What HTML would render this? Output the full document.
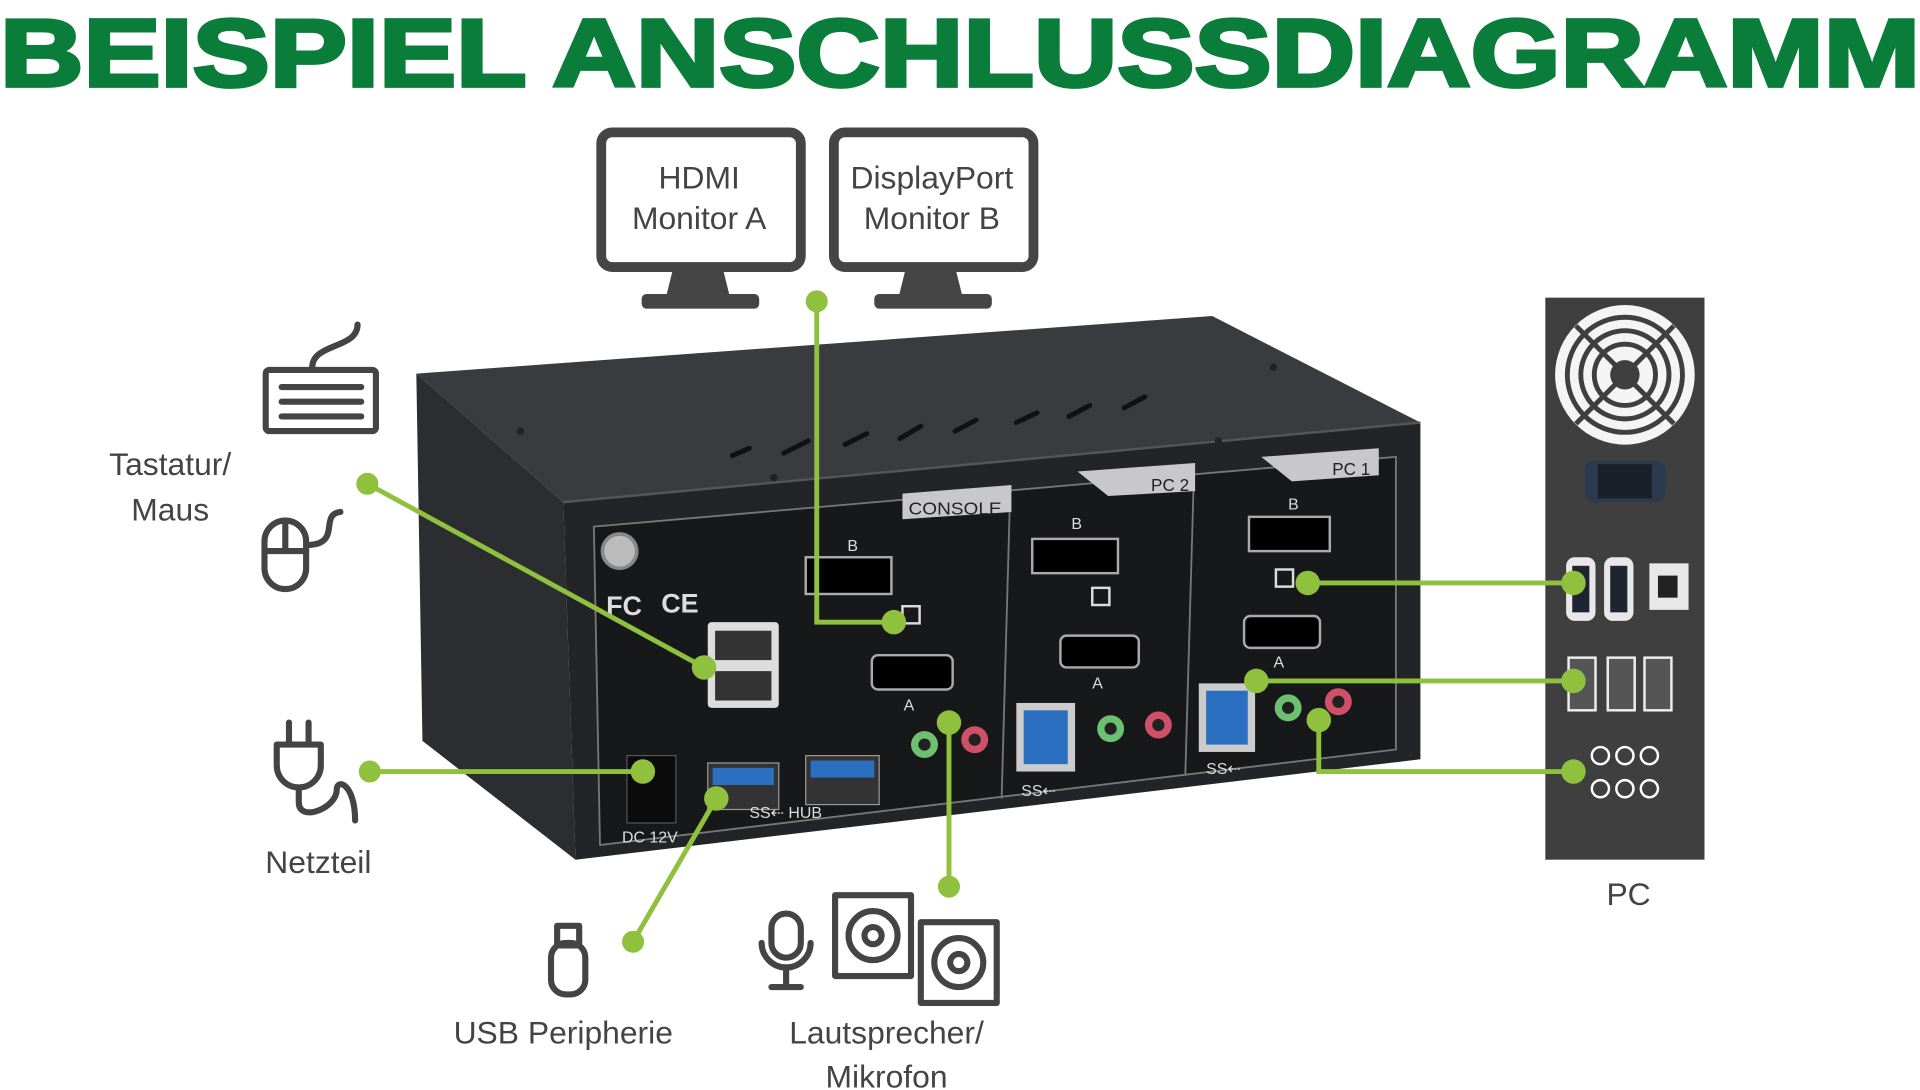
<!DOCTYPE html>
<html><head><meta charset="utf-8"><style>
html,body{margin:0;padding:0;background:#fff;width:1920px;height:1090px;overflow:hidden}
svg{display:block}
</style></head><body>
<svg width="1920" height="1090" viewBox="0 0 1568 890" xmlns="http://www.w3.org/2000/svg" font-family="'Liberation Sans', sans-serif">
<!-- Title -->
<text x="0" y="70" font-size="78" font-weight="bold" fill="#0a7d3b" textLength="1568" lengthAdjust="spacingAndGlyphs" stroke="#0a7d3b" stroke-width="3">BEISPIEL ANSCHLUSSDIAGRAMM</text>

<!-- Monitors -->
<g fill="none" stroke="#454545" stroke-width="8">
<rect x="491" y="108" width="163" height="110" rx="9"/>
<rect x="681" y="108" width="163" height="110" rx="9"/>
</g>
<g fill="#454545">
<polygon points="550,218 590,218 596,242 544,242"/><rect x="524" y="240" width="96" height="12" rx="4"/>
<polygon points="740,218 780,218 786,242 734,242"/><rect x="714" y="240" width="96" height="12" rx="4"/>
</g>
<g font-size="26" fill="#444" text-anchor="middle">
<text x="571" y="154">HDMI</text><text x="571" y="187">Monitor A</text>
<text x="761" y="154">DisplayPort</text><text x="761" y="187">Monitor B</text>
</g>

<!-- KVM box -->
<polygon points="340,305 990,258 1160,345 460,410" fill="#3a3b3e"/>
<polygon points="340,305 460,410 470,702 345,605" fill="#2c2d30"/>
<polygon points="460,410 1160,345 1160,620 470,702" fill="#232427"/>
<line x1="460" y1="410" x2="1160" y2="345" stroke="#555" stroke-width="2"/>
<g fill="#222">
<circle cx="425" cy="352" r="3"/><circle cx="1040" cy="300" r="3"/><circle cx="632" cy="390" r="3"/><circle cx="995" cy="360" r="3"/>
</g>
<g stroke="#111" stroke-width="4" stroke-linecap="round">
<line x1="598" y1="372" x2="612" y2="366"/><line x1="640" y1="370" x2="660" y2="360"/><line x1="690" y1="363" x2="708" y2="354"/><line x1="735" y1="358" x2="752" y2="348"/><line x1="780" y1="352" x2="797" y2="343"/><line x1="830" y1="345" x2="847" y2="337"/><line x1="873" y1="340" x2="890" y2="331"/><line x1="918" y1="333" x2="935" y2="324"/>
</g>
<!-- front panel -->
<polygon points="485,430 1140,373 1140,612 490,690" fill="#17181a" stroke="#777" stroke-width="1.5"/>
<line x1="825" y1="400" x2="818" y2="652" stroke="#777" stroke-width="1.5"/>
<line x1="975" y1="388" x2="968" y2="633" stroke="#777" stroke-width="1.5"/>
<polygon points="737,403 826,396 826,418 737,424" fill="#c8c8ca"/>
<polygon points="880,385 976,378 976,401 905,405" fill="#c8c8ca"/>
<polygon points="1030,373 1126,366 1126,388 1055,393" fill="#c8c8ca"/>
<g font-size="14" fill="#222">
<text x="742" y="420" textLength="76" lengthAdjust="spacingAndGlyphs">CONSOLE</text>
<text x="940" y="401">PC 2</text><text x="1088" y="388">PC 1</text>
</g>
<circle cx="506" cy="450" r="14" fill="#bbb" stroke="#888" stroke-width="3"/>
<g fill="#ddd" font-size="22" font-weight="bold"><text x="495" y="502">FC</text><text x="540" y="500">CE</text></g>
<!-- ports console -->
<rect x="578" y="508" width="58" height="70" fill="#ddd" rx="3"/><rect x="584" y="515" width="46" height="24" fill="#333"/><rect x="584" y="548" width="46" height="24" fill="#333"/>
<rect x="658" y="455" width="70" height="30" fill="#000" stroke="#aaa" stroke-width="2"/>
<rect x="712" y="535" width="66" height="28" rx="5" fill="#000" stroke="#aaa" stroke-width="2"/>
<rect x="512" y="617" width="40" height="55" fill="#0b0b0b" stroke="#555"/>
<rect x="578" y="623" width="58" height="38" fill="#333" stroke="#999"/><rect x="582" y="627" width="50" height="14" fill="#2a6fc0"/>
<rect x="658" y="617" width="60" height="40" fill="#333" stroke="#999"/><rect x="662" y="621" width="52" height="14" fill="#2a6fc0"/>
<circle cx="755" cy="608" r="11" fill="#6dc071"/><circle cx="755" cy="608" r="5" fill="#222"/>
<circle cx="796" cy="604" r="11" fill="#d0506a"/><circle cx="796" cy="604" r="5" fill="#222"/>
<g fill="#ddd" font-size="13"><text x="508" y="688">DC 12V</text><text x="612" y="668">SS⇠ HUB</text><text x="692" y="450">B</text><text x="738" y="580">A</text><text x="875" y="432">B</text><text x="892" y="562">A</text><text x="1052" y="416">B</text><text x="1040" y="545">A</text><text x="834" y="650">SS⇠</text><text x="985" y="632">SS⇠</text></g>
<!-- PC2 -->
<rect x="843" y="440" width="70" height="28" fill="#000" stroke="#aaa" stroke-width="2"/>
<rect x="866" y="519" width="64" height="26" rx="5" fill="#000" stroke="#aaa" stroke-width="2"/>
<rect x="830" y="574" width="48" height="56" fill="#ccc"/><rect x="836" y="580" width="36" height="44" fill="#2a6fc0"/>
<circle cx="907" cy="595" r="11" fill="#6dc071"/><circle cx="907" cy="595" r="5" fill="#222"/>
<circle cx="946" cy="592" r="11" fill="#d0506a"/><circle cx="946" cy="592" r="5" fill="#222"/>
<rect x="892" y="480" width="14" height="14" fill="none" stroke="#ddd" stroke-width="2"/>
<!-- PC1 -->
<rect x="1020" y="422" width="66" height="28" fill="#000" stroke="#aaa" stroke-width="2"/>
<rect x="1016" y="503" width="62" height="26" rx="5" fill="#000" stroke="#aaa" stroke-width="2"/>
<rect x="979" y="558" width="46" height="56" fill="#ccc"/><rect x="985" y="564" width="34" height="44" fill="#2a6fc0"/>
<circle cx="1052" cy="578" r="11" fill="#6dc071"/><circle cx="1052" cy="578" r="5" fill="#222"/>
<circle cx="1093" cy="573" r="11" fill="#d0506a"/><circle cx="1093" cy="573" r="5" fill="#222"/>
<rect x="1042" y="465" width="14" height="14" fill="none" stroke="#ddd" stroke-width="2"/>
<rect x="737" y="495" width="14" height="14" fill="none" stroke="#ddd" stroke-width="2"/>

<!-- PC tower -->
<rect x="1262" y="243" width="130" height="459" fill="#3f3f3f"/>
<circle cx="1327" cy="306" r="57" fill="#f4f4f4"/>
<g fill="none" stroke="#3f3f3f" stroke-width="4"><circle cx="1327" cy="306" r="47"/><circle cx="1327" cy="306" r="36"/><circle cx="1327" cy="306" r="25"/>
<line x1="1287" y1="266" x2="1367" y2="346"/><line x1="1367" y1="266" x2="1287" y2="346"/></g>
<circle cx="1327" cy="306" r="12" fill="#3f3f3f"/>
<rect x="1294" y="376" width="66" height="34" rx="8" fill="#2c3a4e"/><rect x="1305" y="379" width="44" height="28" fill="#1a1f28"/>
<rect x="1279" y="455" width="24" height="52" rx="7" fill="#e8e8e8"/><rect x="1284" y="462" width="14" height="38" fill="#1e2530"/>
<rect x="1310" y="455" width="24" height="52" rx="7" fill="#e8e8e8"/><rect x="1315" y="462" width="14" height="38" fill="#1e2530"/>
<rect x="1347" y="460" width="32" height="38" fill="#e8e8e8"/><rect x="1354" y="470" width="16" height="18" fill="#222"/>
<g fill="#555" stroke="#eee" stroke-width="2"><rect x="1281" y="537" width="22" height="43"/><rect x="1313" y="537" width="22" height="43"/><rect x="1343" y="537" width="22" height="43"/></g>
<g fill="none" stroke="#fff" stroke-width="2"><circle cx="1307" cy="617" r="7"/><circle cx="1327" cy="617" r="7"/><circle cx="1347" cy="617" r="7"/><circle cx="1307" cy="644" r="7"/><circle cx="1327" cy="644" r="7"/><circle cx="1347" cy="644" r="7"/></g>

<!-- connectors -->
<g stroke="#8fc13e" stroke-width="4" fill="none">
<line x1="300" y1="395" x2="575" y2="545"/>
<polyline points="667,246 667,508 730,508"/>
<line x1="302" y1="630" x2="525" y2="630"/>
<line x1="517" y1="769" x2="585" y2="652"/>
<line x1="775" y1="724" x2="775" y2="590"/>
<line x1="1068" y1="476" x2="1285" y2="476"/>
<line x1="1026" y1="556" x2="1285" y2="556"/>
<polyline points="1077,588 1077,630 1285,630"/>
</g>
<g fill="#8fc13e">
<circle cx="300" cy="395" r="9"/><circle cx="575" cy="545" r="10"/>
<circle cx="667" cy="246" r="9"/><circle cx="730" cy="508" r="10"/>
<circle cx="302" cy="630" r="9"/><circle cx="525" cy="630" r="10"/>
<circle cx="517" cy="769" r="9"/><circle cx="585" cy="652" r="10"/>
<circle cx="775" cy="724" r="9"/><circle cx="775" cy="590" r="10"/>
<circle cx="1068" cy="476" r="10"/><circle cx="1285" cy="476" r="10"/>
<circle cx="1026" cy="556" r="10"/><circle cx="1285" cy="556" r="10"/>
<circle cx="1077" cy="588" r="10"/><circle cx="1285" cy="630" r="10"/>
</g>

<!-- icons -->
<g fill="none" stroke="#444" stroke-width="5" stroke-linejoin="round" stroke-linecap="round">
<path d="M292,265 C292,285 255,280 255,300"/>
<rect x="217" y="302" width="90" height="50" rx="3"/>
<line x1="230" y1="316" x2="295" y2="316"/><line x1="230" y1="328" x2="295" y2="328"/><line x1="230" y1="340" x2="295" y2="340"/>
<rect x="216" y="425" width="34" height="56" rx="17"/><line x1="216" y1="450" x2="250" y2="450"/><line x1="233" y1="425" x2="233" y2="450"/>
<path d="M250,445 C280,445 260,420 278,418"/>
<line x1="236" y1="590" x2="236" y2="608"/><line x1="252" y1="590" x2="252" y2="608"/>
<path d="M226,608 H262 V625 A18,18 0 0 1 226,625 Z"/><path d="M244,643 V655 C244,672 275,660 275,645 C275,635 290,640 290,670"/>
<rect x="450" y="770" width="28" height="42" rx="12"/><rect x="455" y="756" width="18" height="16"/>
<rect x="630" y="746" width="24" height="36" rx="12"/><path d="M622,770 A20,20 0 0 0 662,770"/><line x1="642" y1="790" x2="642" y2="806"/><line x1="630" y1="806" x2="654" y2="806"/>
<rect x="682" y="731" width="62" height="66"/><circle cx="713" cy="764" r="20"/><circle cx="713" cy="764" r="7"/>
<rect x="752" y="753" width="62" height="66" fill="#fff"/><circle cx="783" cy="786" r="20"/><circle cx="783" cy="786" r="7"/>
</g>

<!-- labels -->
<g font-size="26" fill="#444" text-anchor="middle">
<text x="139" y="388">Tastatur/</text><text x="139" y="425">Maus</text>
<text x="260" y="713">Netzteil</text>
<text x="460" y="852">USB Peripherie</text>
<text x="724" y="852">Lautsprecher/</text><text x="724" y="888">Mikrofon</text>
<text x="1330" y="739">PC</text>
</g>
</svg>
</body></html>
